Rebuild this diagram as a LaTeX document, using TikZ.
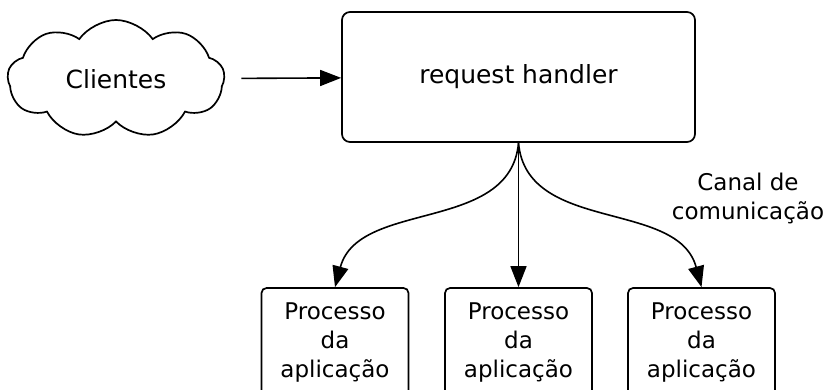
\documentclass[tikz,border=0pt]{standalone}
\usepackage{fontspec}
\setmainfont{DejaVu Sans}
\usetikzlibrary{shapes.symbols,arrows.meta}

\begin{document}
\begin{tikzpicture}[x=1pt, y=-1pt,
    every node/.style={font=\fontsize{23}{29}\selectfont},
    caixa/.style={draw, line width=1.7pt, rounded corners=5pt, minimum width=147pt, minimum height=110pt, text width=140pt, align=center, inner sep=0pt},
    seta/.style={-{Triangle[length=21pt,width=16pt]}, line width=1.6pt}]
    \clip (0,0) rectangle (825,389);
    \node[cloud, draw, line width=1.7pt, cloud puffs=9, cloud puff arc=110, cloud ignores aspect, minimum width=217pt, minimum height=118pt, font=\fontsize{25}{30}\selectfont] (cli) at (116,79) {Clientes};
    \node[draw, line width=1.7pt, rounded corners=8pt, minimum width=353pt, minimum height=130pt, font=\fontsize{25}{30}\selectfont] (rh) at (518.5,77) {request handler};
    \node[caixa] (p1) at (335,343) {Processo\\da\\aplicação};
    \node[caixa] (p2) at (518.5,343) {Processo\\da\\aplicação};
    \node[caixa] (p3) at (701.5,343) {Processo\\da\\aplicação};
    \node[align=center] (canal) at (748,198) {Canal de\\comunicação};
    % conexoes
    \draw[seta, shorten <=16pt] (cli) -- (rh);
    \draw[seta] (rh.south) to[out=-95, in=75] (p1.north);
    \draw[seta] (rh.south) -- (p2.north);
    \draw[seta] (rh.south) to[out=-85, in=105] (p3.north);
\end{tikzpicture}
\end{document}
